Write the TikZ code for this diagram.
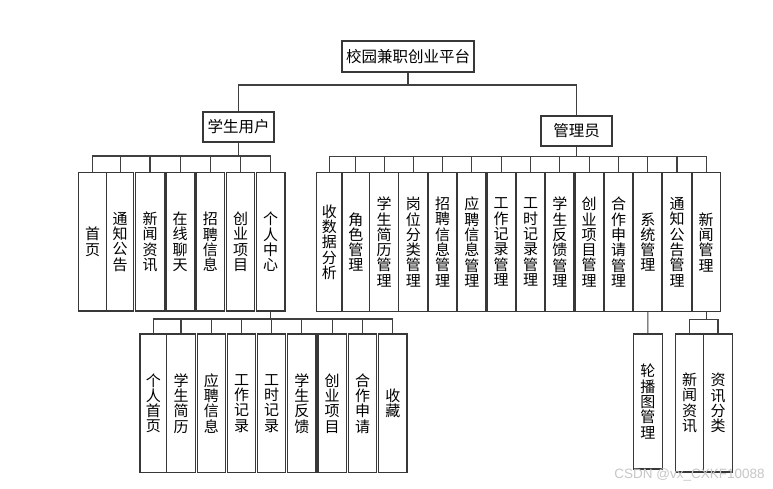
\documentclass[tikz,border=0pt]{standalone}
\usepackage{fontspec}
\newfontfamily\cjk{Noto Sans CJK SC}
\newfontfamily\wmfont{Liberation Sans}
\newcommand\mybox[7][]{\node[box,#1, minimum width={(#4)-(#3)}, minimum height={(#6)-(#5)}] (#2) at ({((#3)+(#4))/2},{((#5)+(#6))/2}) {#7};}
\tikzset{
  box/.style={draw=black!78, line width=1.1pt, fill=white, inner sep=0pt, align=center,
    font=\cjk\fontsize{15}{15.3}\selectfont},
  hbox/.style={font=\cjk\fontsize{15.5}{16}\selectfont},
  conn/.style={draw=black!75, line width=1.1pt}
}
\begin{document}
\begin{tikzpicture}[x=1pt,y=-1pt]
\useasboundingbox[fill=white] (0,0) rectangle (773,489);
% bus coordinates
\coordinate (b0) at (0,85);
\coordinate (sb) at (0,156);
\coordinate (ab) at (0,156.3);
\coordinate (pb) at (0,319);
\coordinate (nb) at (0,319.3);
% top level
\mybox[hbox]{root}{342}{474}{41}{72}{校园兼职创业平台}
\mybox[hbox]{stu}{203}{274}{112}{142}{学生用户}
\mybox[hbox]{adm}{541}{612}{116}{146}{管理员}
% student children
\mybox{s1}{78.3}{106.7}{172.7}{311}{首\\页}
\mybox{s2}{106.7}{133.7}{172.7}{311}{通\\知\\公\\告}
\mybox{s3}{135.7}{164.3}{172.7}{311}{新\\闻\\资\\讯}
\mybox{s4}{166}{194.3}{172.7}{311}{在\\线\\聊\\天}
\mybox{s5}{196}{224.7}{172.7}{311}{招\\聘\\信\\息}
\mybox{s6}{226.3}{254.7}{172.7}{311}{创\\业\\项\\目}
\mybox{s7}{256.3}{285}{172.7}{311}{个\\人\\中\\心}
% admin children
\mybox{a1}{316.7}{342}{172.7}{311.3}{收\\数\\据\\分\\析}
\mybox{a2}{342}{369.7}{172.7}{311.3}{角\\色\\管\\理}
\mybox{a3}{369.7}{398.7}{172.7}{311.3}{学\\生\\简\\历\\管\\理}
\mybox{a4}{398.7}{428}{172.7}{311.3}{岗\\位\\分\\类\\管\\理}
\mybox{a5}{428.7}{456.7}{172.7}{311.3}{招\\聘\\信\\息\\管\\理}
\mybox{a6}{457.7}{486}{172.7}{311.5}{应\\聘\\信\\息\\管\\理}
\mybox{a7}{487}{515.3}{172.7}{311.5}{工\\作\\记\\录\\管\\理}
\mybox{a8}{516.3}{544.7}{172.7}{311.5}{工\\时\\记\\录\\管\\理}
\mybox{a9}{545.7}{574}{172.7}{311.5}{学\\生\\反\\馈\\管\\理}
\mybox{a10}{575}{603.3}{172.7}{311.5}{创\\业\\项\\目\\管\\理}
\mybox{a11}{604.3}{632.7}{172.7}{311.5}{合\\作\\申\\请\\管\\理}
\mybox{a12}{633.7}{662}{172.7}{311.5}{系\\统\\管\\理}
\mybox{a13}{662.7}{691.3}{172.7}{311.5}{通\\知\\公\\告\\管\\理}
\mybox{a14}{692}{720.3}{172.7}{311.5}{新\\闻\\管\\理}
% personal center children
\mybox{p1}{140}{166.7}{334}{472.7}{个\\人\\首\\页}
\mybox{p2}{166.7}{195.3}{334}{472.7}{学\\生\\简\\历}
\mybox{p3}{197.3}{225.3}{334}{472.7}{应\\聘\\信\\息}
\mybox{p4}{227.3}{255.7}{334}{472.7}{工\\作\\记\\录}
\mybox{p5}{257.7}{285.7}{334}{472.7}{工\\时\\记\\录}
\mybox{p6}{287.7}{316}{334}{472.7}{学\\生\\反\\馈}
\mybox{p7}{318}{346.3}{334}{472.7}{创\\业\\项\\目}
\mybox{p8}{348.3}{376.7}{334}{472.7}{合\\作\\申\\请}
\mybox{p9}{378.7}{407}{334}{472.7}{收\\藏}
% system / news children
\mybox{c1}{633.3}{662.3}{334}{469}{轮\\播\\图\\管\\理}
\mybox{n1}{675.7}{703.7}{334}{472}{新\\闻\\资\\讯}
\mybox{n2}{703.7}{732.3}{334}{472}{资\\讯\\分\\类}
% connectors
\begin{scope}[on background layer/.style={}]
\draw[conn] (root.south) -- (root.south|-b0);
\draw[conn] (stu.north) |- (root.south|-b0) -| (adm.north);
% student bus
\draw[conn] (stu.south) -- (stu.south|-sb);
\draw[conn] (s1.north) -- (s1.north|-sb) -- (s7.north|-sb) -- (s7.north);
\foreach \n in {s2,s3,s4,s5,s6} \draw[conn] (\n.north) -- (\n.north|-sb);
% admin bus
\draw[conn] (adm.south) -- (adm.south|-ab);
\draw[conn] (a1.north) -- (a1.north|-ab) -- (a14.north|-ab) -- (a14.north);
\foreach \n in {a2,a3,a4,a5,a6,a7,a8,a9,a10,a11,a12,a13} \draw[conn] (\n.north) -- (\n.north|-ab);
% personal center bus
\draw[conn] (s7.south) -- (s7.south|-pb);
\draw[conn] (p1.north) -- (p1.north|-pb) -- (p9.north|-pb) -- (p9.north);
\foreach \n in {p2,p3,p4,p5,p6,p7,p8} \draw[conn] (\n.north) -- (\n.north|-pb);
% system management
\draw[conn] (a12.south) -- (c1.north);
% news management
\draw[conn] (a14.south) -- (a14.south|-nb);
\draw[conn] (n1.north) -- (n1.north|-nb) -- (n2.north|-nb) -- (n2.north);
\end{scope}
% watermark
\node[text=black!22, font=\wmfont\fontsize{13.5}{14}\selectfont, inner sep=0pt] (wm) at (689.5,475) {CSDN @vx\_CXKF10088};
\end{tikzpicture}
\end{document}
